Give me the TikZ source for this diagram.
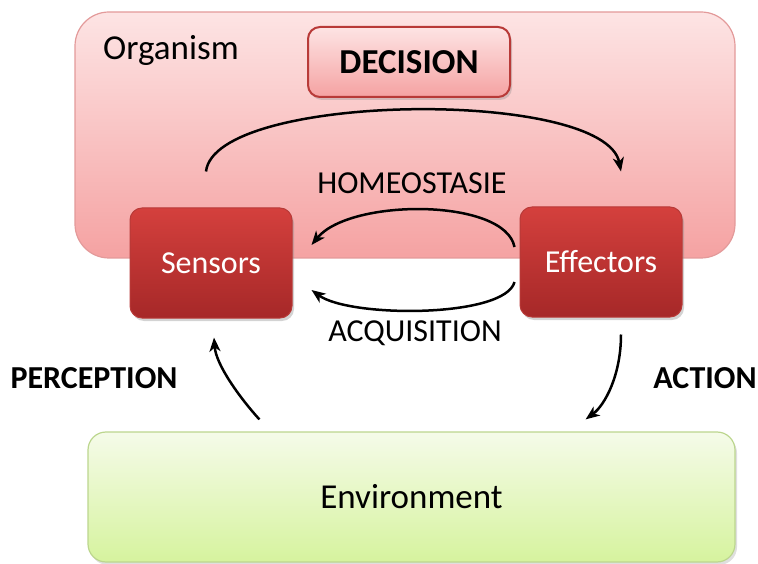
\documentclass[tikz,border=0pt]{standalone}
\usepackage{fontspec}
\setmainfont{Carlito}
\usepackage{tikz}
\usetikzlibrary{arrows.meta}
\usetikzlibrary{shadows}

\definecolor{orgtop}{HTML}{FDE4E4}
\definecolor{orgbot}{HTML}{F5A2A2}
\definecolor{orgline}{HTML}{E39A9A}
\definecolor{redtop}{HTML}{D4403D}
\definecolor{redbot}{HTML}{A62828}
\definecolor{redline}{HTML}{B83A38}
\definecolor{envtop}{HTML}{F5FBE9}
\definecolor{envbot}{HTML}{D6F39E}
\definecolor{envline}{HTML}{BCD68E}

\begin{document}
\begin{tikzpicture}[x=1pt,y=-1pt]
		\tikzset{organism/.style = {shape=rectangle,rounded corners=34pt,draw=orgline,line width=1.2pt,
				top color=orgtop,bottom color=orgbot,minimum width=660pt,minimum height=246pt}}
		\tikzset{decisionbox/.style = {shape=rectangle,rounded corners=12pt,draw=redline,line width=2pt,
				top color=orgtop,bottom color=orgbot,minimum width=202pt,minimum height=70pt,
				drop shadow={opacity=.3,shadow xshift=2pt,shadow yshift=-3pt},font=\fontsize{35}{40}\selectfont\bfseries}}
		\tikzset{organ/.style = {shape=rectangle,rounded corners=12pt,draw=redline,line width=1pt,
				top color=redtop,bottom color=redbot,minimum width=162pt,minimum height=110pt,text=white,
				drop shadow={opacity=.35,shadow xshift=2pt,shadow yshift=-3pt},font=\fontsize{32}{38}\selectfont}}
		\tikzset{envbox/.style = {shape=rectangle,rounded corners=18pt,draw=envline,line width=1.2pt,
				top color=envtop,bottom color=envbot,minimum width=647pt,minimum height=130pt,
				drop shadow={opacity=.25,shadow xshift=2pt,shadow yshift=-3pt},font=\fontsize{35}{40}\selectfont}}
		\tikzset{label/.style = {font=\fontsize{32}{38}\selectfont}}
		\tikzset{biglabel/.style = {font=\fontsize{35}{40}\selectfont}}
		\tikzset{boldlabel/.style = {font=\fontsize{32}{38}\selectfont\bfseries}}
		\tikzset{edge/.style = {line width=2.5pt,-{Stealth[length=14pt,width=11pt,inset=4pt]}}}
		\useasboundingbox (0,0) rectangle (758,564);
		% boxes
		\node[organism] (org) at (405,135) {};
		\node[biglabel] (orgname) at (171,50) {Organism};
		\node[decisionbox] (decision) at (409,62) {DECISION};
		\node[organ] (sensors) at (211,263) {Sensors};
		\node[organ] (effectors) at (601,262) {Effectors};
		\node[envbox] (env) at (411.5,497) {Environment};
		% labels
		\node[label] (homeo) at (412,183) {HOMEOSTASIE};
		\node[label] (acq) at (415,333) {ACQUISITION};
		\node[boldlabel] (perc) at (94,378) {PERCEPTION};
		\node[boldlabel] (act) at (705,378) {ACTION};
		% arrows
		\draw[edge] ([xshift=-5pt,yshift=36pt]sensors.north) .. controls (215,92) and (605,88) .. ([xshift=20pt,yshift=35pt]effectors.north);
		\draw[edge] ([xshift=-5pt,yshift=15pt]effectors.west) .. controls (505,198) and (350,198) .. ([xshift=19pt,yshift=18pt]sensors.east);
		\draw[edge] ([xshift=-5pt,yshift=-20pt]effectors.west) .. controls (505,318) and (350,318) .. ([xshift=19pt,yshift=-27pt]sensors.east);
		\draw[edge] ([xshift=172pt,yshift=12pt]env.north west) .. controls (240,398) and (216,365) .. ([xshift=3pt,yshift=-19pt]sensors.south);
		\draw[edge] ([xshift=20pt,yshift=-17pt]effectors.south) .. controls (621,375) and (605,405) .. ([xshift=-150pt,yshift=12pt]env.north east);
\end{tikzpicture}
\end{document}
